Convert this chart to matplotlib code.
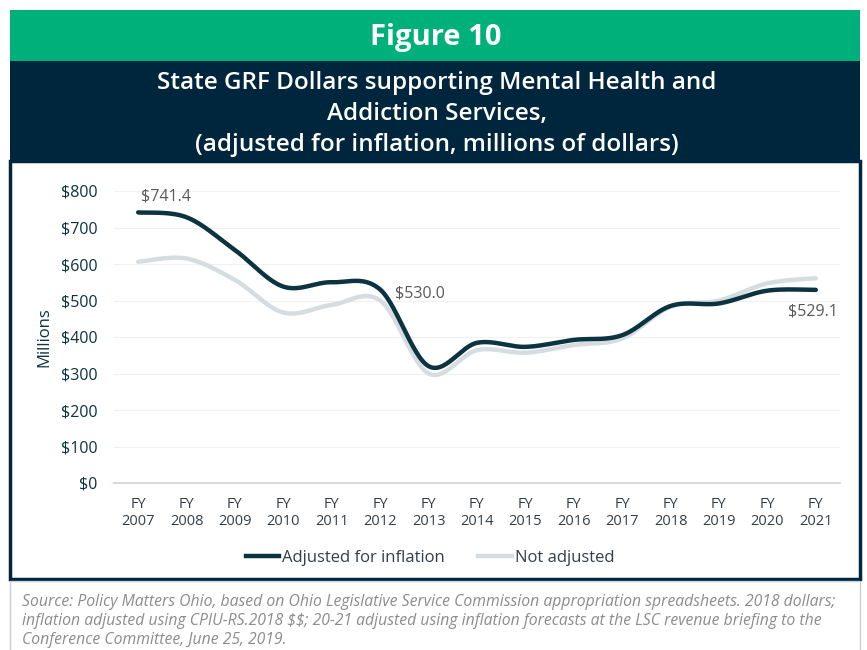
import matplotlib
matplotlib.use("Agg")
import matplotlib.pyplot as plt
import numpy as np
from matplotlib.patches import Rectangle
from matplotlib.lines import Line2D

plt.rcParams["text.parse_math"] = False

# data (millions of dollars)
years = ["2007", "2008", "2009", "2010", "2011", "2012", "2013", "2014",
         "2015", "2016", "2017", "2018", "2019", "2020", "2021"]
adjusted = [741.4, 728, 638, 538, 550, 530.0, 320, 384, 373, 392, 405, 485, 492, 527, 529.1]
not_adjusted = [606, 615, 556, 467, 488, 500, 300, 364, 357, 378, 396, 483, 500, 547, 561]
y_ticks = [0, 100, 200, 300, 400, 500, 600, 700, 800]
labels = {0: "$741.4", 5: "$530.0", 14: "$529.1"}

GREEN = "#00B07A"
NAVY = "#00263E"
DARK = "#0B3340"
LIGHT = "#D6DDE0"
GRAY = "#595959"
FONT = ["Open Sans", "DejaVu Sans"]


def smooth(xs, ys, n=30):
    # Bezier smoothing between points, like a spreadsheet "smoothed line"
    xs = np.asarray(xs, float)
    ys = np.asarray(ys, float)
    px, py = [], []
    for i in range(len(xs) - 1):
        x0, y0 = xs[max(i - 1, 0)], ys[max(i - 1, 0)]
        x1, y1 = xs[i], ys[i]
        x2, y2 = xs[i + 1], ys[i + 1]
        x3, y3 = xs[min(i + 2, len(xs) - 1)], ys[min(i + 2, len(xs) - 1)]
        c1x, c1y = x1 + (x2 - x0) / 6, y1 + (y2 - y0) / 6
        c2x, c2y = x2 - (x3 - x1) / 6, y2 - (y3 - y1) / 6
        t = np.linspace(0, 1, n, endpoint=(i == len(xs) - 2))
        a, b, c, d = (1 - t) ** 3, 3 * (1 - t) ** 2 * t, 3 * (1 - t) * t ** 2, t ** 3
        px.extend(a * x1 + b * c1x + c * c2x + d * x2)
        py.extend(a * y1 + b * c1y + c * c2y + d * y2)
    return np.array(px), np.array(py)


W, H = 867, 650
fig = plt.figure(figsize=(W / 100, H / 100), dpi=100)


def box(x, y, w, h, **kw):
    # pixel coords from top-left
    fig.patches.append(Rectangle((x / W, 1 - (y + h) / H), w / W, h / H,
                                 transform=fig.transFigure, figure=fig,
                                 zorder=-5, **kw))


box(10, 10, 850, 51, facecolor=GREEN, edgecolor="none")
box(10, 61, 850, 100, facecolor=NAVY, edgecolor="none")
box(10, 161, 850, 418, facecolor="white", edgecolor=NAVY, linewidth=2.5)
box(10, 581, 850, 75, facecolor="white", edgecolor="#C8CED2", linewidth=1)

fig.text(436 / W, 1 - 37 / H, "Figure 10", color="white", fontsize=21,
         fontweight="bold", ha="center", va="center", family=FONT)
fig.text(437 / W, 1 - 114 / H,
         "State GRF Dollars supporting Mental Health and\nAddiction Services,\n"
         "(adjusted for inflation, millions of dollars)",
         color="white", fontsize=17.5, fontweight="semibold", ha="center", va="center",
         linespacing=1.38, family=FONT)

ax = fig.add_axes([114 / W, 1 - 483 / H, 726 / W, 292 / H])
ax.set_zorder(2)
ax.patch.set_alpha(0)
x = np.arange(len(years))
sx, sy = smooth(x, not_adjusted)
ax.plot(sx, sy, color=LIGHT, linewidth=3.2, solid_capstyle="round")
sx, sy = smooth(x, adjusted)
ax.plot(sx, sy, color=DARK, linewidth=3.2, solid_capstyle="round")

ax.set_xlim(-0.5, 14.5)
ax.set_ylim(0, 800)
ax.set_yticks(y_ticks)
ax.set_yticklabels([f"${v}" for v in y_ticks], color=DARK, fontsize=11.5, family=FONT)
ax.set_xticks(x)
ax.set_xticklabels([f"FY\n{y}" for y in years], color="#333F48", fontsize=10.5,
                   family=FONT, linespacing=1.2)
ax.tick_params(length=0, pad=12, axis="y")
ax.tick_params(length=0, pad=10, axis="x")
ax.grid(axis="y", color="#F0F0F0", linewidth=0.8)
ax.set_axisbelow(True)
for s in ["top", "right", "left"]:
    ax.spines[s].set_visible(False)
ax.spines["bottom"].set_color("#D9D9D9")
ax.spines["bottom"].set_linewidth(1.5)
ax.set_ylabel("Millions", color=DARK, fontsize=12, family=FONT, labelpad=6)

offsets = {0: (0.05, 44), 5: (0.3, -10), 14: (-0.05, -58)}
for i, txt in labels.items():
    dx, dy = offsets[i]
    ha = "left" if i < 14 else "center"
    ax.text(x[i] + dx, adjusted[i] + dy, txt, color=GRAY, fontsize=11.5,
            ha=ha, va="center", family=FONT, clip_on=False)

handles = [Line2D([], [], color=DARK, linewidth=3.2),
           Line2D([], [], color=LIGHT, linewidth=3.2)]
fig.legend(handles, ["Adjusted for inflation", "Not adjusted"],
           loc="center", bbox_to_anchor=(430 / W, 1 - 558 / H), ncol=2,
           frameon=False, handlelength=2.0, handletextpad=0.2, columnspacing=2.0,
           prop={"family": FONT, "size": 12}, labelcolor="#333F48")

fig.text(22 / W, 1 - 621 / H,
         "Source: Policy Matters Ohio, based on Ohio Legislative Service Commission appropriation spreadsheets. 2018 dollars;\n"
         "inflation adjusted using CPIU-RS.2018 $$; 20-21 adjusted using inflation forecasts at the LSC revenue briefing to the\n"
         "Conference Committee, June 25, 2019.",
         color="#8C8C8C", fontsize=11.3, style="italic", ha="left", va="center",
         linespacing=1.28, family=FONT)

fig.savefig("out.png", dpi=100)
